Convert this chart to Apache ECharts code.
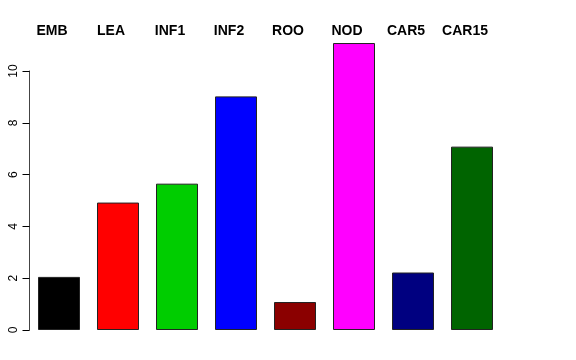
<!DOCTYPE html>
<html><head><meta charset="utf-8">
<script src="https://cdn.jsdelivr.net/npm/echarts@6/dist/echarts.min.js"></script>
<style>html,body{margin:0;padding:0;background:#fff}#c{width:576px;height:360px}</style>
</head><body><div id="c"></div>
<script>
var categories = ["EMB","LEA","INF1","INF2","ROO","NOD","CAR5","CAR15"];
var values = [2.05, 4.92, 5.65, 9.02, 1.08, 11.08, 2.22, 7.08];
var barColors = ["#000000","#FF0000","#00CD00","#0000FF","#8B0000","#FF00FF","#000080","#006400"];
var yTicks = [0,2,4,6,8,10];

var chart = echarts.init(document.getElementById('c'));
chart.setOption({
  animation:false,
  backgroundColor:'#fff',
  grid:{left:29.5, width:472, top:71, bottom:30},
  xAxis:{type:'category', data:categories, position:'top',
    axisLine:{show:false}, axisTick:{show:false},
    axisLabel:{interval:0, hideOverlap:false, fontFamily:'Liberation Sans, Arial, sans-serif', fontWeight:'bold', fontSize:14, color:'#000', margin:33, padding:[0,14,0,0]}},
  yAxis:{type:'value', min:yTicks[0], max:yTicks[yTicks.length-1], interval:2,
    splitLine:{show:false},
    axisLine:{show:true, lineStyle:{color:'#444', width:1}},
    axisTick:{show:true, length:7, lineStyle:{color:'#000'}},
    axisLabel:{rotate:90, fontFamily:'Liberation Sans, Arial, sans-serif', fontSize:12, color:'#000', margin:10}},
  series:[{type:'bar', clip:false, barWidth:42,
    data: values.map(function(v,i){return {value:v, itemStyle:{color:barColors[i]}};}),
    itemStyle:{borderColor:'#222', borderWidth:1}}]
});
</script></body></html>
